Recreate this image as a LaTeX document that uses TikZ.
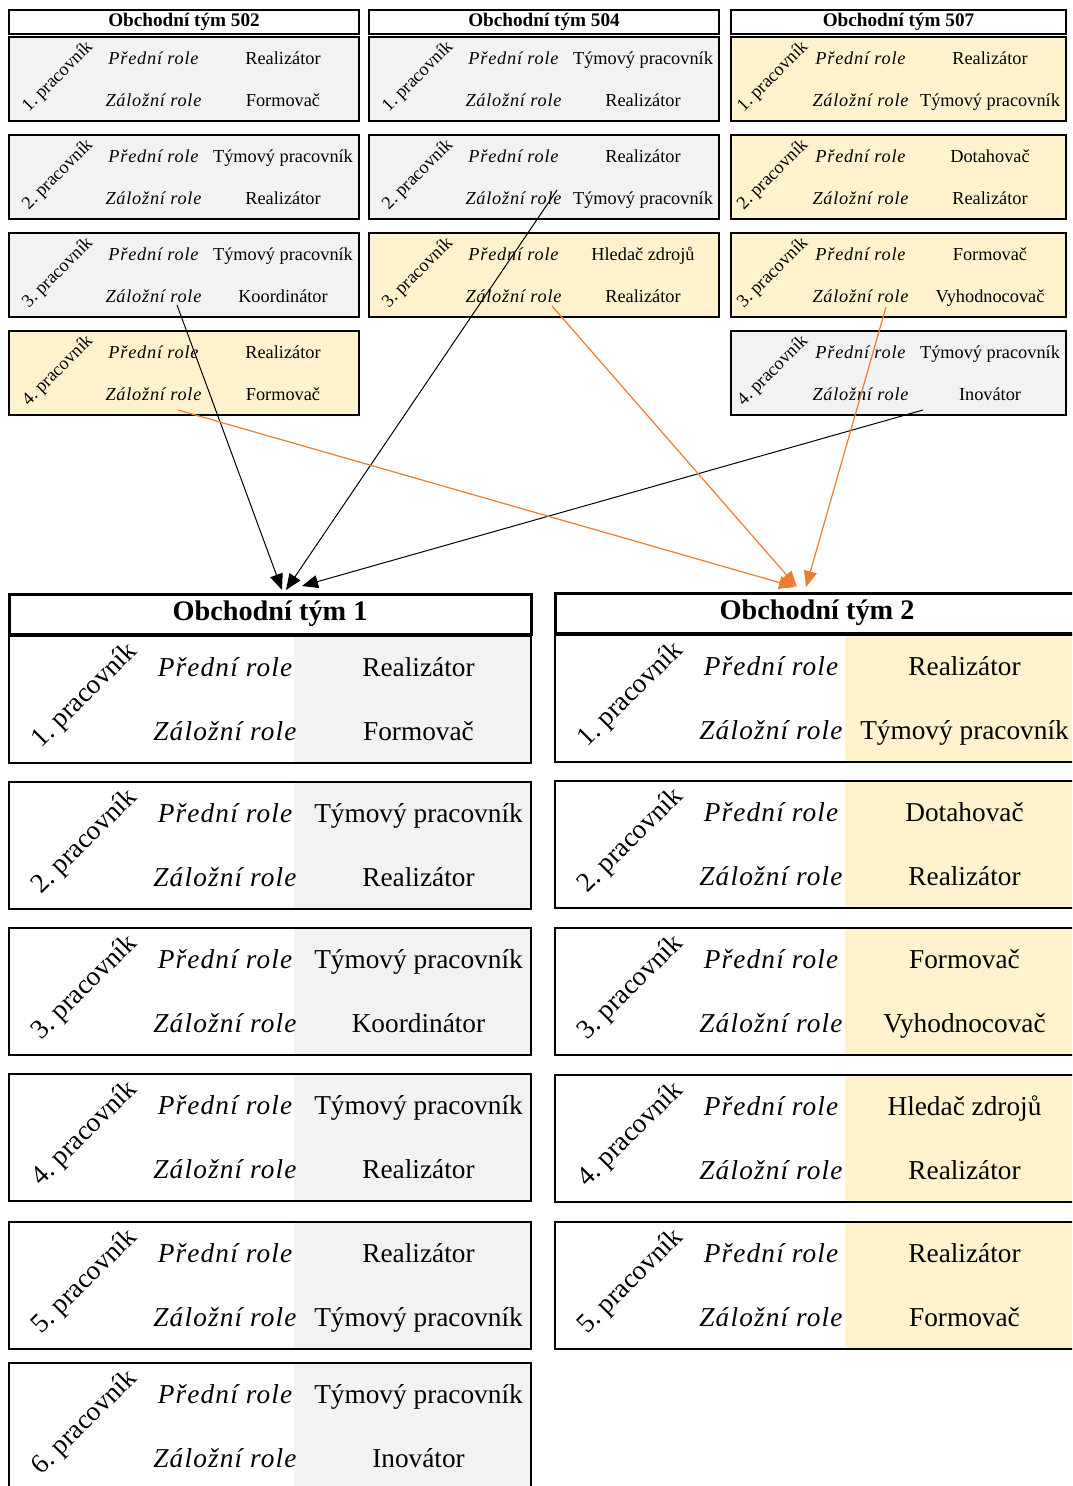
\documentclass[tikz,border=0pt]{standalone}
\usepackage{fontspec}
\setmainfont{Liberation Serif}
\newfontfamily\rolefont[LetterSpace=4.2]{Liberation Serif}
\usetikzlibrary{arrows.meta}
\definecolor{cellgray}{HTML}{F2F2F2}
\definecolor{cellgold}{HTML}{FFF2CC}
\definecolor{linkorange}{HTML}{ED7D31}

% one worker row of a small source team
% #1 name, #2 left x, #3 top y, #4 fill, #5 number, #6 front role, #7 back role
\newcommand\teamrowS[7]{%
  \node[srow, fill=#4, minimum width=\sw pt] (#1) at (#2,#3) {};
  \node[sit]  (#1-fl) at ({#2+\soffI},{#3+27.4}) {Přední role};
  \node[sit]  (#1-bl) at ({#2+\soffI},{#3+69.4}) {Záložní role};
  \node[stxt] (#1-f)  at ({#2+\soffR},{#3+27.4}) {#6};
  \node[stxt] (#1-b)  at ({#2+\soffR},{#3+69.4}) {#7};
  \node[stxt, anchor=center, rotate=45] (#1-n) at ({#2+\soffD},{#3+40}) {#5.~pracovník};
}
% one worker row of a large new team
\newcommand\teamrowB[7]{%
  \fill[#4] ({#2+\bfx},#3) rectangle ({#2+\bw},{#3+127});
  \node[brow, minimum width=\bw pt] (#1) at (#2,#3) {};
  \node[bit]  (#1-fl) at ({#2+216},{#3+40.5}) {Přední role};
  \node[bit]  (#1-bl) at ({#2+216},{#3+104.5}) {Záložní role};
  \node[btxt] (#1-f)  at ({#2+409.5},{#3+40.5}) {#6};
  \node[btxt] (#1-b)  at ({#2+409.5},{#3+104.5}) {#7};
  \node[btxt, anchor=center, rotate=45] (#1-n) at ({#2+76},{#3+60}) {#5.~pracovník};
}

\begin{document}
\begin{tikzpicture}[x=1pt,y=-1pt,
  srow/.style={draw, line width=1.8pt, anchor=north west, minimum height=84pt, inner sep=0pt, outer sep=0pt},
  brow/.style={draw, line width=2.4pt, anchor=north west, minimum height=127pt, inner sep=0pt, outer sep=0pt},
  stxt/.style={font=\fontsize{18.3}{20}\selectfont, inner sep=0pt, anchor=base},
  sit/.style={font=\rolefont\itshape\fontsize{18.3}{20}\selectfont, inner sep=0pt, anchor=base},
  btxt/.style={font=\fontsize{27.3}{30}\selectfont, inner sep=0pt, anchor=base},
  bit/.style={font=\rolefont\itshape\fontsize{27.3}{30}\selectfont, inner sep=0pt, anchor=base},
  shead/.style={draw, line width=2pt, fill=white, minimum height=24pt, inner sep=0pt,
    font=\bfseries\fontsize{19.2}{21}\selectfont},
  bhead/.style={draw, line width=3pt, fill=white, minimum height=40pt, inner sep=0pt,
    font=\bfseries\fontsize{28.3}{31}\selectfont},
  blacklink/.style={line width=1pt, -{Triangle[length=16pt,width=13pt]}},
  orangelink/.style={draw=linkorange, line width=1.2pt, -{Triangle[length=16pt,width=13pt]}, fill=linkorange},
]
\useasboundingbox (0,0) rectangle (1072,1486);
\clip (0,0) rectangle (1072,1486);

% ---- source teams ----
\node[shead, minimum width=350pt] (h502) at (184,22) {Obchodní tým 502};
\node[shead, minimum width=350pt] (h504) at (544,22) {Obchodní tým 504};
\node[shead, minimum width=335pt] (h507) at (898.5,22) {Obchodní tým 507};

\def\sw{350}\def\soffI{144.5}\def\soffR{274}\def\soffD{49}
\teamrowS{a1}{9}{37}{cellgray}{1}{Realizátor}{Formovač}
\teamrowS{a2}{9}{135}{cellgray}{2}{Týmový pracovník}{Realizátor}
\teamrowS{a3}{9}{233}{cellgray}{3}{Týmový pracovník}{Koordinátor}
\teamrowS{a4}{9}{331}{cellgold}{4}{Realizátor}{Formovač}

\teamrowS{b1}{369}{37}{cellgray}{1}{Týmový pracovník}{Realizátor}
\teamrowS{b2}{369}{135}{cellgray}{2}{Realizátor}{Týmový pracovník}
\teamrowS{b3}{369}{233}{cellgold}{3}{Hledač zdrojů}{Realizátor}

\def\sw{335}\def\soffI{129.5}\def\soffR{259}\def\soffD{42}
\teamrowS{c1}{731}{37}{cellgold}{1}{Realizátor}{Týmový pracovník}
\teamrowS{c2}{731}{135}{cellgold}{2}{Dotahovač}{Realizátor}
\teamrowS{c3}{731}{233}{cellgold}{3}{Formovač}{Vyhodnocovač}
\teamrowS{c4}{731}{331}{cellgray}{4}{Týmový pracovník}{Inovátor}

% ---- new teams ----
\node[bhead, minimum width=522pt] (t1) at (270,614) {Obchodní tým 1};
\node[bhead, minimum width=524pt] (t2) at (817,613) {Obchodní tým 2};

\def\bw{522}\def\bfx{285}
\teamrowB{p1}{9}{636}{cellgray}{1}{Realizátor}{Formovač}
\teamrowB{p2}{9}{782}{cellgray}{2}{Týmový pracovník}{Realizátor}
\teamrowB{p3}{9}{928}{cellgray}{3}{Týmový pracovník}{Koordinátor}
\teamrowB{p4}{9}{1074}{cellgray}{4}{Týmový pracovník}{Realizátor}
\teamrowB{p5}{9}{1222}{cellgray}{5}{Realizátor}{Týmový pracovník}
\teamrowB{p6}{9}{1363}{cellgray}{6}{Týmový pracovník}{Inovátor}

\def\bw{530}\def\bfx{290}
\teamrowB{q1}{555}{635}{cellgold}{1}{Realizátor}{Týmový pracovník}
\teamrowB{q2}{555}{781}{cellgold}{2}{Dotahovač}{Realizátor}
\teamrowB{q3}{555}{928}{cellgold}{3}{Formovač}{Vyhodnocovač}
\teamrowB{q4}{555}{1075}{cellgold}{4}{Hledač zdrojů}{Realizátor}
\teamrowB{q5}{555}{1222}{cellgold}{5}{Realizátor}{Formovač}

% ---- moves of workers ----
\coordinate (sa3) at (177,305);
\coordinate (sb2) at (557,190);
\coordinate (sc4) at (923,410);
\coordinate (sa4) at (178,410);
\coordinate (sb3) at (552,306);
\coordinate (sc3) at (886,307);
\coordinate (ea3) at (282,590);
\coordinate (eb2) at (286,590);
\coordinate (ec4) at (302,586);
\coordinate (ea4) at (795,587);
\coordinate (eb3) at (797,587);
\coordinate (ec3) at (806,587);

\draw[blacklink] (sa3) -- (ea3);
\draw[blacklink] (sb2) -- (eb2);
\draw[blacklink] (sc4) -- (ec4);
\draw[orangelink] (sa4) -- (ea4);
\draw[orangelink] (sb3) -- (eb3);
\draw[orangelink] (sc3) -- (ec3);
\end{tikzpicture}
\end{document}
